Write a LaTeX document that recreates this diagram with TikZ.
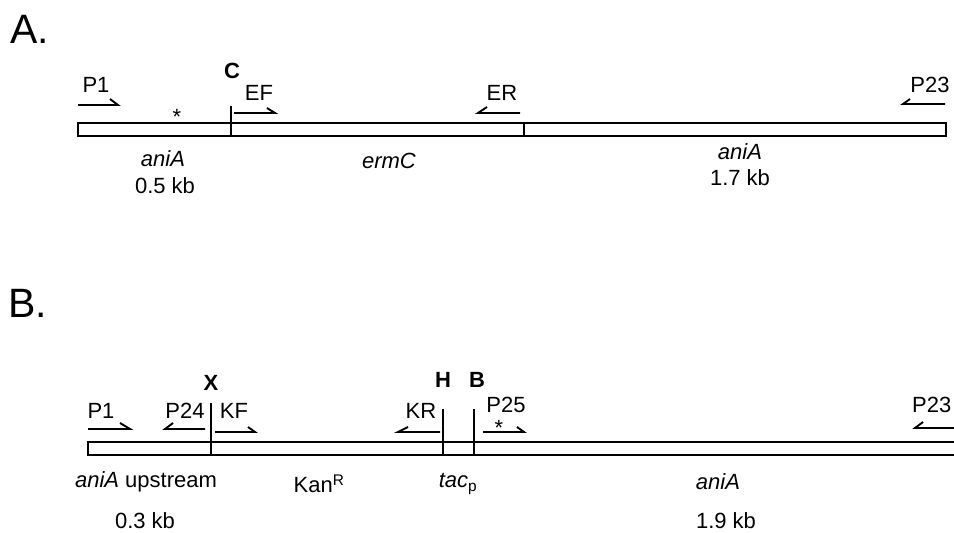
\documentclass[tikz,border=0pt]{standalone}
\usepackage{fontspec}
\setmainfont{Liberation Sans}
\begin{document}
\begin{tikzpicture}[x=1pt,y=-1pt,
  lbl/.style={inner sep=0pt,font=\fontsize{22}{25}\selectfont},
  site/.style={inner sep=0pt,font=\fontsize{22}{25}\selectfont\bfseries},
  panel/.style={inner sep=0pt,font=\fontsize{41}{45}\selectfont},
  star/.style={inner sep=0pt,anchor=base,font=\fontsize{22}{25}\selectfont},
  bar/.style={line width=1.8pt},
  primer/.style={line width=1.9pt,line join=miter},
  divider/.style={line width=1.8pt}]
\clip (0,0) rectangle (954,533);
% ---------- Panel A ----------
\node[panel] (pA) at (30,29) {A.};
\coordinate (a0) at (78,123);
\coordinate (a1) at (946,136);
\draw[bar] (a0) rectangle (a1);
\coordinate (cTop) at (231,106);
\coordinate (cBot) at (231,136);
\draw[divider] (cTop) -- (cBot);
\coordinate (eTop) at (524,123);
\coordinate (eBot) at (524,136);
\draw[divider] (eTop) -- (eBot);
\node[site] (C) at (232,71) {C};
% primers
\coordinate (p1aS) at (78,105); \coordinate (p1aE) at (118,105); \coordinate (p1aH) at (110,99);
\draw[primer] (p1aS) -- (p1aE) -- (p1aH);
\node[lbl] (P1a) at (96,85) {P1};
\node[star] (starA) at (177,124) {*};
\coordinate (efS) at (234,113); \coordinate (efE) at (275,113); \coordinate (efH) at (267,108);
\draw[primer] (efS) -- (efE) -- (efH);
\node[lbl] (EF) at (259,93) {EF};
\coordinate (erS) at (520,113); \coordinate (erE) at (478,113); \coordinate (erH) at (487,107);
\draw[primer] (erS) -- (erE) -- (erH);
\node[lbl] (ER) at (502,93) {ER};
\coordinate (p23aS) at (945,104); \coordinate (p23aE) at (903,104); \coordinate (p23aH) at (910,99);
\draw[primer] (p23aS) -- (p23aE) -- (p23aH);
\node[lbl] (P23a) at (930,85) {P23};
% labels
\node[lbl] (aniA1) at (163,159) {\itshape aniA};
\node[lbl] (kb05) at (165,186) {0.5 kb};
\node[lbl] (ermC) at (389,161) {\itshape ermC};
\node[lbl] (aniA2) at (740,152) {\itshape aniA};
\node[lbl] (kb17) at (740,178) {1.7 kb};
% ---------- Panel B ----------
\node[panel] (pB) at (28,303) {B.};
\coordinate (b0) at (960,442);
\coordinate (b1) at (88,442);
\coordinate (b2) at (88,455);
\coordinate (b3) at (960,455);
\draw[bar] (b0) -- (b1) -- (b2) -- (b3);
\coordinate (xTop) at (211,403); \coordinate (xBot) at (211,455);
\draw[divider] (xTop) -- (xBot);
\coordinate (hTop) at (443,409); \coordinate (hBot) at (443,455);
\draw[divider] (hTop) -- (hBot);
\coordinate (bTop) at (474,409); \coordinate (bBot) at (474,455);
\draw[divider] (bTop) -- (bBot);
\node[site] (X) at (211,383) {X};
\node[site] (H) at (443,380) {H};
\node[site] (Bs) at (477,380) {B};
\coordinate (p1bS) at (88,429); \coordinate (p1bE) at (130,429); \coordinate (p1bH) at (120,423);
\draw[primer] (p1bS) -- (p1bE) -- (p1bH);
\node[lbl] (P1b) at (101,411) {P1};
\coordinate (p24S) at (205,429); \coordinate (p24E) at (165,429); \coordinate (p24H) at (173,423);
\draw[primer] (p24S) -- (p24E) -- (p24H);
\node[lbl] (P24) at (185,411) {P24};
\coordinate (kfS) at (215,432); \coordinate (kfE) at (255,432); \coordinate (kfH) at (248,427);
\draw[primer] (kfS) -- (kfE) -- (kfH);
\node[lbl] (KF) at (234,411) {KF};
\coordinate (krS) at (440,432); \coordinate (krE) at (398,432); \coordinate (krH) at (408,427);
\draw[primer] (krS) -- (krE) -- (krH);
\node[lbl] (KR) at (421,411) {KR};
\coordinate (p25S) at (483,432); \coordinate (p25E) at (524,432); \coordinate (p25H) at (517,427);
\draw[primer] (p25S) -- (p25E) -- (p25H);
\node[lbl] (P25) at (506,405) {P25};
\node[star] (starB) at (499,435) {*};
\coordinate (p23bS) at (958,428); \coordinate (p23bE) at (915,428); \coordinate (p23bH) at (923,422);
\draw[primer] (p23bS) -- (p23bE) -- (p23bH);
\node[lbl,anchor=west] (P23b) at (912,405) {P23};
% labels
\node[lbl] (aniAup) at (146,482) {\itshape aniA\upshape{} upstream};
\node[lbl] (kb03) at (145,521) {0.3 kb};
\node[lbl] (kan) at (319,484) {Kan\textsuperscript{R}};
\node[lbl] (tac) at (458,484) {\itshape tac\textsubscript{\upshape p}};
\node[lbl] (aniA3) at (718,482) {\itshape aniA};
\node[lbl] (kb19) at (726,521) {1.9 kb};
\end{tikzpicture}
\end{document}
